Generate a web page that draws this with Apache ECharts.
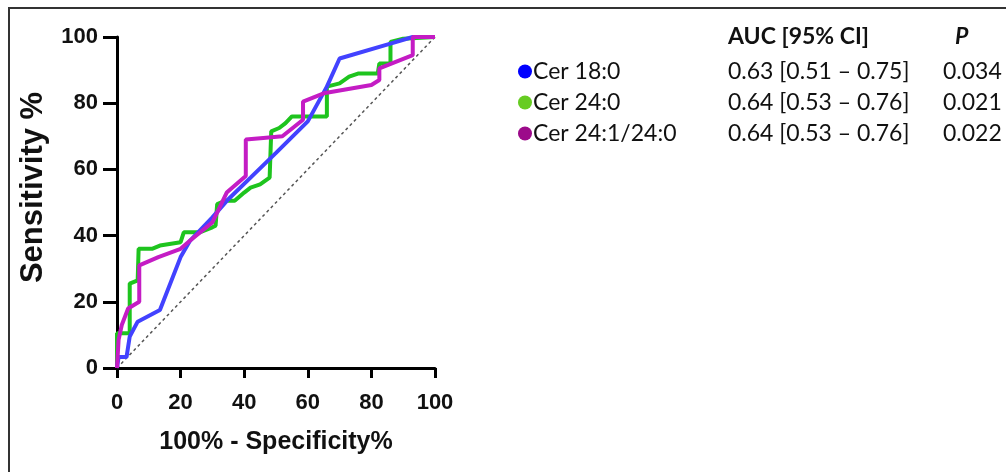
<!DOCTYPE html>
<html>
<head>
<meta charset="utf-8">
<script src="https://cdn.jsdelivr.net/npm/echarts@6/dist/echarts.min.js"></script>
<style>
html,body{margin:0;padding:0;background:#fff;}
#frame{position:absolute;left:8px;top:7px;width:1010px;height:480px;border:2px solid #333;box-sizing:border-box;}
#chart{position:absolute;left:0;top:0;width:1006px;height:472px;}
</style>
</head>
<body>
<div id="frame"></div>
<div id="chart"></div>
<script>
// ---- data ----
const seriesNames = ['Cer 18:0', 'Cer 24:0', 'Cer 24:1/24:0'];
const aucText = ['0.63 [0.51 \u2013 0.75]', '0.64 [0.53 \u2013 0.76]', '0.64 [0.53 \u2013 0.76]'];
const pText = ['0.034', '0.021', '0.022'];
const xTicks = [0, 20, 40, 60, 80, 100];
const yTicks = [0, 20, 40, 60, 80, 100];

const cer180 = [[0,0],[0.5,3.3],[3,3.3],[4,9.5],[6.5,14],[13.5,17.5],[20,33.5],[23,38.5],[30,45.5],[35,51],[42,57.5],[50,65],[60,74.5],[66,85],[70,93.5],[86,98],[93,100],[100,100]];
const cer240 = [[0,0],[0,10.5],[4,10.5],[4,25.5],[6.5,26.5],[6.8,36],[11,36],[13.5,37],[20,38],[21,41],[26,41],[30,42.5],[31,43],[31.5,49.5],[34,50.5],[37,50.5],[40,53],[42,54.5],[45,55.5],[48,57.5],[48.5,71.5],[51,72.5],[53,74],[55,76],[66,76],[66,85],[70,86],[73,88],[76,89],[82,89],[82.5,92],[86,92],[86,98.5],[90,99.5],[90,100],[100,100]];
const cer241 = [[0,0],[0.5,8.5],[1.5,13],[3.5,18],[7,20],[7,31],[13,33.5],[20,36],[23,38.5],[30,44],[34.5,53],[40.5,58],[40.5,69],[46,69.5],[52,70],[58.5,75],[58.5,80.5],[65,83],[80,85.5],[82.5,87],[82.5,90.5],[93,94.5],[93,100],[100,100]];
const refLine = [[0,0],[100,100]];

const lineColors = ['#4242ff', '#1ec41e', '#c41cc4'];
const dotColors = ['#0000ff', '#66cc22', '#9c0a8a'];

const chart = echarts.init(document.getElementById('chart'));
const axisFont = {fontFamily: 'Liberation Sans, Arial, sans-serif', fontWeight: 'bold', color: '#111'};
const tblFont = 'Lato, sans-serif';
const rowY = [72, 103, 134];

const graphics = [
  {type:'text', left:728, top:38 - 13, style:{text:'AUC [95% CI]', font:'bold 23px ' + tblFont, fill:'#111'}},
  {type:'text', left:955, top:38 - 13, style:{text:'P', font:'italic bold 23px ' + tblFont, fill:'#111'}}
];
for (let i = 0; i < 3; i++) {
  graphics.push({type:'text', left:728, top:rowY[i] - 12, style:{text:aucText[i], font:'23px ' + tblFont, fill:'#111'}});
  graphics.push({type:'text', left:943, top:rowY[i] - 12, style:{text:pText[i], font:'23px ' + tblFont, fill:'#111'}});
}

chart.setOption({
  animation: false,
  backgroundColor: 'transparent',
  grid: {left: 117, top: 37, width: 318, height: 331},
  legend: {
    orient: 'vertical', left: 513, top: 51, itemGap: 0,
    icon: 'circle', itemWidth: 14, itemHeight: 14,
    lineStyle: {width: 0, opacity: 0},
    textStyle: {fontFamily: tblFont, fontSize: 23, color: '#111', lineHeight: 31, padding: [0,0,0,-4]},
    data: seriesNames.map((n, i) => ({name: n, itemStyle: {color: dotColors[i]}}))
  },
  xAxis: {
    type: 'value', min: 0, max: 100, interval: 20,
    name: '100% - Specificity%', nameLocation: 'middle', nameGap: 62,
    nameTextStyle: Object.assign({fontSize: 25}, axisFont),
    axisLine: {show: true, lineStyle: {color: '#000', width: 3}},
    axisTick: {show: true, length: 10, lineStyle: {color: '#000', width: 3}},
    axisLabel: Object.assign({fontSize: 22, margin: 24, formatter: v => xTicks.includes(v) ? String(v) : ''}, axisFont),
    splitLine: {show: false}
  },
  yAxis: {
    type: 'value', min: 0, max: 100, interval: 20,
    name: 'Sensitivity %', nameLocation: 'middle', nameGap: 68,
    nameTextStyle: Object.assign({fontSize: 31, padding: [0, 0, 0, 30]}, axisFont),
    axisLine: {show: true, lineStyle: {color: '#000', width: 3}},
    axisTick: {show: true, length: 14, lineStyle: {color: '#000', width: 3}},
    axisLabel: Object.assign({fontSize: 22, margin: 19, formatter: v => yTicks.includes(v) ? String(v) : ''}, axisFont),
    splitLine: {show: false}
  },
  graphic: graphics,
  series: [
    {type:'line', data: refLine, showSymbol:false, silent:true, z:1,
     lineStyle:{color:'#555', width:1.5, type:[3,3]}},
    {type:'line', name: seriesNames[1], data: cer240, showSymbol:false, z:2,
     itemStyle:{color: lineColors[1]}, lineStyle:{color: lineColors[1], width:4}},
    {type:'line', name: seriesNames[0], data: cer180, showSymbol:false, z:3,
     itemStyle:{color: lineColors[0]}, lineStyle:{color: lineColors[0], width:4}},
    {type:'line', name: seriesNames[2], data: cer241, showSymbol:false, z:4,
     itemStyle:{color: lineColors[2]}, lineStyle:{color: lineColors[2], width:4}}
  ]
});
</script>
</body>
</html>
